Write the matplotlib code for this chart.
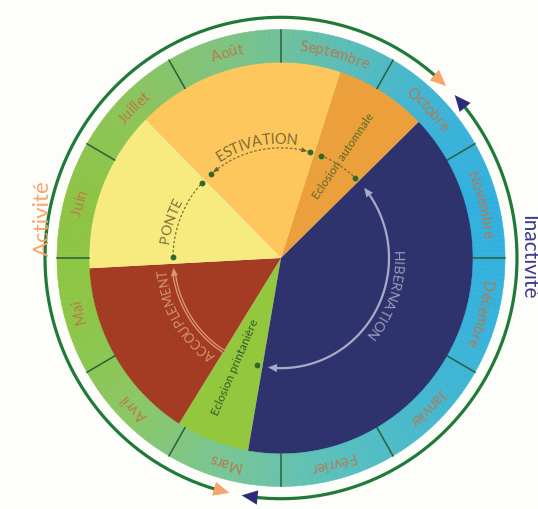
import numpy as np
import matplotlib
matplotlib.use('Agg')
import matplotlib.pyplot as plt
from matplotlib.patches import Wedge, Polygon
from matplotlib.font_manager import FontProperties, findfont, get_font
from matplotlib.backends.backend_agg import get_hinting_flag
from matplotlib.colors import to_rgb
try:
    from matplotlib.ft2font import Kerning
    KERN_MODE = Kerning.DEFAULT
except Exception:
    KERN_MODE = 0

# ---------------- data ----------------
months = ['Janvier', 'Février', 'Mars', 'Avril', 'Mai', 'Juin', 'Juillet',
          'Août', 'Septembre', 'Octobre', 'Novembre', 'Décembre']

# phases of the annual cycle, in months counted from 1 January
phase_names = ['Eclosion printanière', 'ACCOUPLEMENT', 'PONTE', 'ESTIVATION',
               'Eclosion automnale', 'HIBERNATION']
phase_start = [2.33, 3.07, 4.90, 6.50, 8.60, 9.53]
phase_end = [3.07, 4.90, 6.50, 8.60, 9.53, 14.33]

activity_labels = ['Activité', 'Inactivité']
activity_start = [2.37, 9.53]
activity_end = [9.53, 14.37]

# ---------------- style ----------------
phase_colors = ['#93c83e', '#a43b23', '#f7eb80', '#fdc75d', '#eca03b', '#2f336d']
month_colors = ['#45b8cf', '#58c0bd', '#78c597', '#8bc764', '#8dc546', '#8dc443',
                '#8cc45a', '#7ec381', '#5ebeb4', '#3eb4d6', '#31b0df', '#36b2dc']
activity_colors = ['#f6a56d', '#2e2b7d']
activity_text_colors = ['#f6a56d', '#3b3a8c']
BG = '#fdfdf9'
GREEN = '#1f7a3a'

W, H, DPI = 538, 509, 100
CX, CY, YS = 281, 258, 1.02
R_IN, R_OUT, R_ARC, R_INNER = 192, 224, 236, 108
R_MID = (R_IN + R_OUT) / 2

fig = plt.figure(figsize=(W / DPI, H / DPI), dpi=DPI)
fig.patch.set_facecolor(BG)
ax = fig.add_axes([0, 0, 1, 1])
ax.set_xlim(-CX, W - CX)
ax.set_ylim((CY - H) / YS, CY / YS)
ax.axis('off')


def ang(m):
    """month position -> angle in degrees (clockwise, Sept at top)"""
    return -30.0 - 30.0 * m


def pol(r, deg):
    t = np.radians(deg)
    return r * np.cos(t), r * np.sin(t)


def arc(r, a0, a1, **kw):
    t = np.radians(np.linspace(a0, a1, 300))
    ax.plot(r * np.cos(t), r * np.sin(t), solid_capstyle='butt', **kw)


def arrow_head(r, tip_deg, direction, L, Wd, color, z=6):
    """triangle whose tip sits at tip_deg; direction +1 points to larger angles"""
    base = tip_deg - direction * np.degrees(L / r)
    pts = [pol(r, tip_deg), pol(r + Wd / 2, base), pol(r - Wd / 2, base)]
    ax.add_patch(Polygon(pts, closed=True, facecolor=color, edgecolor='none', zorder=z))
    return base


def glyph_metrics(s, fp):
    f = get_font(findfont(fp))
    f.clear()
    f.set_size(fp.get_size_in_points(), DPI)
    out = []
    prev = None
    for c in s:
        gi = f.get_char_index(ord(c))
        kern = 0.0
        if prev is not None:
            try:
                kern = f.get_kerning(prev, gi, KERN_MODE) / 64.0
            except Exception:
                kern = 0.0
        prev = gi
        adv = f.load_char(ord(c)).linearHoriAdvance / 65536.0
        f.set_text(c, 0.0, flags=get_hinting_flag())
        xo = f.get_bitmap_offset()[0] / 64.0
        w = f.get_width_height()[0] / 64.0
        out.append((kern, adv, xo, w))
    return out


def arc_text(s, center_deg, r, size, color, family='Lato', alpha=1.0, half=0.36, z=7):
    fp = FontProperties(family=family, size=size)
    met = glyph_metrics(s, fp)
    total = sum(m[0] + m[1] for m in met)
    px = size * DPI / 72
    rb = r - half * px
    th0 = np.radians(center_deg) + total / (2 * r)
    pen = 0.0
    for ch, (kern, adv, xo, w) in zip(s, met):
        pen += kern
        th = th0 - (pen + xo + w / 2) / r
        pen += adv
        # the Agg backend shifts each glyph by its bearing horizontally; undo that
        x = rb * np.cos(th) - xo
        y = rb * np.sin(th)
        ax.text(x, y, ch, fontproperties=fp, color=color, alpha=alpha,
                rotation=np.degrees(th) - 90, rotation_mode='anchor',
                ha='center', va='baseline', zorder=z)


# ---------------- phase sectors ----------------
for s, e, c in zip(phase_start, phase_end, phase_colors):
    ax.add_patch(Wedge((0, 0), R_IN + 1, ang(e), ang(s), facecolor=c,
                       edgecolor='none', zorder=1))

# ---------------- month ring (gradient) ----------------
mc = np.array([to_rgb(c) for c in month_colors])
step = 1 / 24
for p in np.arange(0, 12, step):
    q = p + step / 2 - 0.5
    k = int(np.floor(q)) % 12
    f = q - np.floor(q)
    col = (1 - f) * mc[k] + f * mc[(k + 1) % 12]
    ax.add_patch(Wedge((0, 0), R_OUT, ang(p + step), ang(p), width=R_OUT - R_IN,
                       facecolor=col, edgecolor=col, lw=0.4, zorder=2))

for k in range(12):
    a = ang(k)
    x0, y0 = pol(R_IN, a)
    x1, y1 = pol(R_OUT, a)
    ax.plot([x0, x1], [y0, y1], color='#2c5f3e', lw=1.1, zorder=3)
    arc_text(months[k], ang(k + 0.5), R_MID, 10.5, '#bf7446', alpha=0.92, half=0.30)

# ---------------- activity / inactivity arcs ----------------
gap = 1.5
for s, e, c in zip(activity_start, activity_end, activity_colors):
    t0 = ang(s) - gap
    t1 = ang(e) + gap
    b0 = arrow_head(R_ARC, t0, +1, 16, 14, c)
    b1 = arrow_head(R_ARC, t1, -1, 16, 14, c)
    arc(R_ARC, b0 + 0.5, b1 - 0.5, color=GREEN, lw=2.3, zorder=5)

# ---------------- inner cycle arcs ----------------
DOT = '#2f6a2c'
DASH = dict(color='#7d6d38', lw=0.9, linestyle=(0, (2.0, 1.6)), zorder=5)
# PONTE
arc(R_INNER, ang(phase_start[2] + 0.12), ang(phase_end[2] - 0.07), **DASH)
# ESTIVATION
arc(R_INNER, ang(phase_start[3] + 0.15), ang(phase_end[3] - 0.08), **DASH)
arrow_head(R_INNER, ang(phase_start[3] + 0.2), +1, 6, 5, '#6b5e2c')
arrow_head(R_INNER, ang(phase_end[3] - 0.13), -1, 6, 5, '#6b5e2c')
# Eclosion automnale
arc(R_INNER, ang(phase_start[4] + 0.12), ang(phase_end[4] - 0.09), **DASH)

dot_pos = [phase_start[0] + 0.10,
           phase_start[2] + 0.12, phase_end[2] - 0.07,
           phase_start[3] + 0.15, phase_end[3] - 0.08,
           phase_start[4] + 0.12, phase_end[4] - 0.09]
for m in dot_pos:
    x, y = pol(R_INNER, ang(m))
    ax.plot(x, y, 'o', ms=4.2, color=DOT, mec='none', zorder=6)

# HIBERNATION (grey arc with arrow heads)
GREY = '#a7abc6'
h0, h1 = ang(phase_start[5] + 0.15), ang(phase_end[5] - 0.10)
b0 = arrow_head(R_INNER, h0, +1, 9, 8, GREY)
b1 = arrow_head(R_INNER, h1, -1, 9, 8, GREY)
arc(R_INNER, b0, b1, color=GREY, lw=1.6, zorder=5)

# ACCOUPLEMENT (hollow tan arc)
TAN = '#d99b6c'
a0, a1 = ang(phase_start[1] - 0.03), ang(phase_end[1] - 0.07)
b1 = arrow_head(R_INNER, a1, -1, 8, 7, TAN)
arc(R_INNER, a0, b1, color=TAN, lw=2.8, zorder=5)
arc(R_INNER, a0 - 0.5, b1 - 0.6, color=phase_colors[1], lw=0.9, zorder=5)

# ---------------- labels of the phases ----------------
arc_text(phase_names[3], ang(7.58), 117, 10.5, '#7b6b33')
arc_text(phase_names[2], ang(5.60), 117, 10, '#7b6b33')
arc_text(phase_names[5], ang(11.62), 118, 10, '#9a9db8')
arc_text(phase_names[1], ang(3.98), 119, 9.2, '#d39a6c')

x, y = pol(118, ang(9.07))
ax.text(x, y, phase_names[4], family='Lato', fontsize=8.5, color='#586b2a',
        rotation=56, rotation_mode='anchor', ha='center', va='center', zorder=7)
x, y = pol(117, ang(2.77))
ax.text(x, y, phase_names[0], family='Lato', fontsize=8.5, color='#2f5c28',
        rotation=67, rotation_mode='anchor', ha='center', va='center', zorder=7)

# ---------------- Activité / Inactivité ----------------
x, y = pol(235, 170.5)
ax.text(x, y, activity_labels[0], family='Lato', fontsize=16,
        color=activity_text_colors[0], rotation=90, rotation_mode='anchor',
        ha='center', va='baseline', zorder=7)
x, y = pol(241, 0.2)
ax.text(x, y, activity_labels[1], family='Lato', fontsize=15,
        color=activity_text_colors[1], rotation=-90, rotation_mode='anchor',
        ha='center', va='baseline', zorder=7)

fig.savefig('out.png', dpi=DPI, facecolor=BG)
